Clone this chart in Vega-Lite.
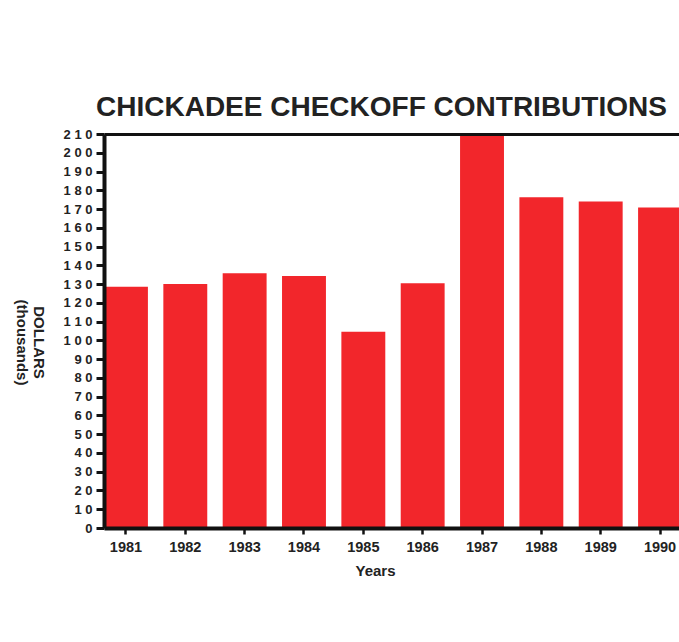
{
  "$schema": "https://vega.github.io/schema/vega-lite/v6.json",
  "autosize": {"type": "none"},
  "width": 575,
  "height": 394,
  "padding": {"left": 104, "top": 134, "right": 0, "bottom": 114},
  "background": "white",
  "title": {
    "text": "CHICKADEE CHECKOFF CONTRIBUTIONS",
    "anchor": "start",
    "frame": "group",
    "font": "Liberation Sans",
    "fontSize": 28,
    "fontWeight": "bold",
    "color": "#222222",
    "baseline": "alphabetic",
    "offset": -16,
    "dx": -8
  },
  "data": {
    "values": [
      {"year": "1981", "dollars": 128.6},
      {"year": "1982", "dollars": 130.1},
      {"year": "1983", "dollars": 135.8},
      {"year": "1984", "dollars": 134.3},
      {"year": "1985", "dollars": 104.6},
      {"year": "1986", "dollars": 130.4},
      {"year": "1987", "dollars": 210},
      {"year": "1988", "dollars": 176.3},
      {"year": "1989", "dollars": 174},
      {"year": "1990", "dollars": 170.8}
    ]
  },
  "mark": {"type": "bar", "color": "#f2262b", "clip": true},
  "encoding": {
    "x": {
      "field": "year",
      "type": "ordinal",
      "scale": {"range": [0, 578], "paddingInner": 0.26, "paddingOuter": 0},
      "axis": {
        "title": "Years",
        "zindex": 1,
        "labelAngle": 0,
        "labelFont": "Liberation Sans",
        "labelFontSize": 14.5,
        "labelFontWeight": "bold",
        "labelColor": "#222222",
        "labelPadding": 6,
        "tickSize": 6,
        "tickWidth": 2.5,
        "tickColor": "#111111",
        "domainColor": "#111111",
        "domainWidth": 4,
        "titleFont": "Liberation Sans",
        "titleFontSize": 15,
        "titleFontWeight": "bold",
        "titleColor": "#222222",
        "titlePadding": 10,
        "titleX": 271
      }
    },
    "y": {
      "field": "dollars",
      "type": "quantitative",
      "scale": {"domain": [0, 210], "nice": false},
      "axis": {
        "title": ["DOLLARS", "(thousands)"],
        "zindex": 1,
        "titleAngle": 90,
        "titleFont": "Liberation Sans",
        "titleFontSize": 15,
        "titleFontWeight": "bold",
        "titleColor": "#222222",
        "titleLineHeight": 17,
        "titlePadding": 16,
        "titleY": 208,
        "values": [0, 10, 20, 30, 40, 50, 60, 70, 80, 90, 100, 110, 120, 130, 140, 150, 160, 170, 180, 190, 200, 210],
        "labelExpr": "replace(datum.label, /(\\d)(?=\\d)/g, '$1 ')",
        "labelFont": "Liberation Sans",
        "labelFontSize": 13,
        "labelFontWeight": "bold",
        "labelColor": "#222222",
        "labelPadding": 4,
        "tickSize": 8,
        "tickWidth": 3,
        "tickColor": "#111111",
        "domainColor": "#111111",
        "domainWidth": 4,
        "grid": true,
        "gridColor": "#111111",
        "gridWidth": 3,
        "gridOpacity": {"condition": {"test": "datum.value === 210", "value": 1}, "value": 0}
      }
    }
  },
  "config": {"view": {"stroke": null}}
}
